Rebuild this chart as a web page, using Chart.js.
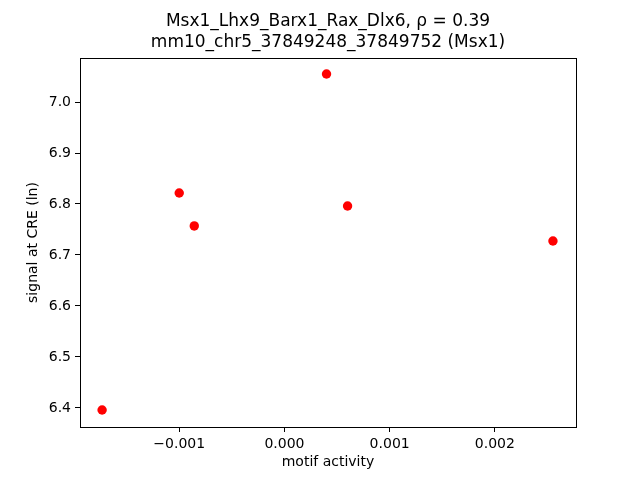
<!DOCTYPE html>
<html>
<head>
<meta charset="utf-8">
<script src="https://cdn.jsdelivr.net/npm/chart.js@4/dist/chart.umd.min.js"></script>
<style>
  html, body { margin: 0; padding: 0; background: #fff; }
  canvas { display: block; }
</style>
</head>
<body>
<canvas id="chart" width="640" height="480"></canvas>
<script>
// motif activity vs signal values
const motifActivity = [-0.001733, -0.001, -0.000857, 0.0004, 0.0006, 0.002552];
const signalCRE = [6.396, 6.8216, 6.757, 7.055, 6.796, 6.7275];

const xTicks = [-0.001, 0, 0.001, 0.002];
const yTicks = [6.4, 6.5, 6.6, 6.7, 6.8, 6.9, 7.0];

const titleLines = ['Msx1_Lhx9_Barx1_Rax_Dlx6, \u03C1 = 0.39', 'mm10_chr5_37849248_37849752 (Msx1)'];

const FONT = 'DejaVu Sans';

// box round the plot and the two title lines
const framePlugin = {
  id: 'frame',
  afterDraw(chart) {
    const ctx = chart.ctx;
    const a = chart.chartArea;
    ctx.save();
    ctx.strokeStyle = '#000';
    ctx.lineWidth = 1;
    ctx.strokeRect(a.left + 0.5, a.top + 0.5, a.right - a.left, a.bottom - a.top);
    ctx.fillStyle = '#000';
    ctx.font = '17px "' + FONT + '"';
    ctx.textAlign = 'center';
    ctx.textBaseline = 'middle';
    const cx = (a.left + a.right) / 2;
    ctx.fillText(titleLines[0], cx, 22);
    ctx.fillText(titleLines[1], cx, 43);
    ctx.restore();
  }
};

const points = motifActivity.map((x, i) => ({ x: x, y: signalCRE[i] }));

new Chart(document.getElementById('chart'), {
  type: 'scatter',
  data: {
    datasets: [{
      data: points,
      backgroundColor: '#ff0000',
      borderWidth: 0,
      pointRadius: 4.7,
      pointHoverRadius: 4.7
    }]
  },
  options: {
    responsive: false,
    animation: false,
    layout: { padding: { top: 58, right: 64, left: 0, bottom: 0 } },
    plugins: {
      legend: { display: false },
      tooltip: { enabled: false }
    },
    scales: {
      x: {
        type: 'linear',
        min: -0.001943,
        max: 0.002771,
        afterBuildTicks: (scale) => { scale.ticks = xTicks.map(v => ({ value: v })); },
        afterFit: (scale) => { scale.height = 53; },
        grid: { drawOnChartArea: false, drawTicks: true, tickLength: 5, color: '#000' },
        border: { display: true, color: '#000' },
        ticks: {
          color: '#000',
          font: { family: FONT, size: 14 },
          padding: 4,
          maxRotation: 0,
          callback: (v) => v.toFixed(3).replace('-', '\u2212')
        },
        title: {
          display: true,
          text: 'motif activity',
          color: '#000',
          font: { family: FONT, size: 14 },
          padding: { top: 0, bottom: 9 }
        }
      },
      y: {
        type: 'linear',
        min: 6.3627,
        max: 7.0863,
        afterBuildTicks: (scale) => { scale.ticks = yTicks.map(v => ({ value: v })); },
        afterFit: (scale) => { scale.width = 80; },
        grid: { drawOnChartArea: false, drawTicks: true, tickLength: 5, color: '#000' },
        border: { display: true, color: '#000' },
        ticks: {
          color: '#000',
          font: { family: FONT, size: 14 },
          padding: 4,
          callback: (v) => v.toFixed(1)
        },
        title: {
          display: true,
          text: 'signal at CRE (ln)',
          color: '#000',
          font: { family: FONT, size: 14 },
          padding: { top: 25, bottom: 0 }
        }
      }
    }
  },
  plugins: [framePlugin]
});
</script>
</body>
</html>
